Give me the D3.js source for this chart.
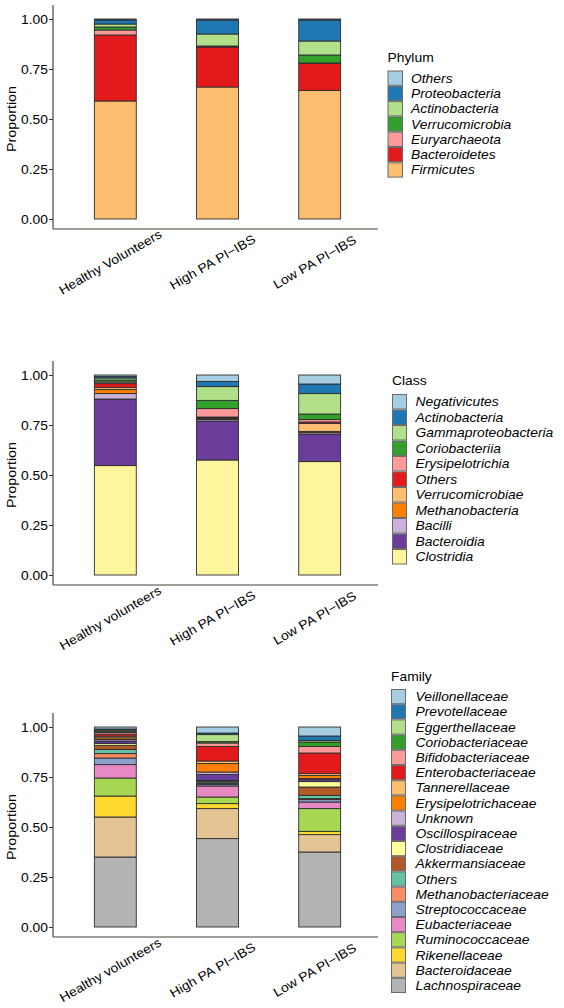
<!DOCTYPE html>
<html><head><meta charset="utf-8">
<script src="https://cdn.jsdelivr.net/npm/d3@7"></script>
<style>
html,body{margin:0;padding:0;background:#fff;}
svg{display:block;}
text{font-family:"Liberation Sans",Arial,sans-serif;fill:#000;}
</style></head>
<body>
<svg id="chart" width="564" height="1008"></svg>
<script>
// ---------- DATA ----------
const groupsPhylum = ["Healthy Volunteers", "High PA PI\u2212IBS", "Low PA PI\u2212IBS"];
const groupsOther  = ["Healthy volunteers", "High PA PI\u2212IBS", "Low PA PI\u2212IBS"];
const yTicks = [0, 0.25, 0.5, 0.75, 1];
const yTickLabels = ["0.00", "0.25", "0.50", "0.75", "1.00"];

// Phylum (bottom -> top of stack)
const phylumNames  = ["Firmicutes", "Bacteroidetes", "Euryarchaeota", "Verrucomicrobia", "Actinobacteria", "Proteobacteria", "Others"];
const phylumColors = ["#FDBF6F", "#E31A1C", "#FB9A99", "#33A02C", "#B2DF8A", "#1F78B4", "#A6CEE3"];
const phylumHV   = [0.590, 0.330, 0.025, 0.015, 0.015, 0.020, 0.005];
const phylumHigh = [0.660, 0.200, 0.002, 0.003, 0.060, 0.070, 0.005];
const phylumLow  = [0.643, 0.135, 0.002, 0.040, 0.070, 0.105, 0.005];

// Class (bottom -> top)
const classNames  = ["Clostridia", "Bacteroidia", "Bacilli", "Methanobacteria", "Verrucomicrobiae", "Others", "Erysipelotrichia", "Coriobacteriia", "Gammaproteobacteria", "Actinobacteria", "Negativicutes"];
const classColors = ["#FFF59D", "#6A3D9A", "#CAB2D6", "#FF7F00", "#FDBF6F", "#E31A1C", "#FB9A99", "#33A02C", "#B2DF8A", "#1F78B4", "#A6CEE3"];
const classHV   = [0.547, 0.333, 0.027, 0.020, 0.010, 0.020, 0.008, 0.010, 0.010, 0.008, 0.007];
const classHigh = [0.575, 0.195, 0.008, 0.004, 0.004, 0.004, 0.042, 0.041, 0.069, 0.026, 0.032];
const classLow  = [0.567, 0.138, 0.007, 0.006, 0.040, 0.007, 0.012, 0.028, 0.102, 0.048, 0.045];

// Family (bottom -> top)
const familyNames  = ["Lachnospiraceae", "Bacteroidaceae", "Rikenellaceae", "Ruminococcaceae", "Eubacteriaceae", "Streptococcaceae", "Methanobacteriaceae", "Others", "Akkermansiaceae", "Clostridiaceae", "Oscillospiraceae", "Unknown", "Erysipelotrichaceae", "Tannerellaceae", "Enterobacteriaceae", "Bifidobacteriaceae", "Coriobacteriaceae", "Eggerthellaceae", "Prevotellaceae", "Veillonellaceae"];
const familyColors = ["#B3B3B3", "#E5C494", "#FFD92F", "#A6D854", "#E78AC3", "#8DA0CB", "#FC8D62", "#66C2A5", "#B15928", "#FFFF99", "#6A3D9A", "#CAB2D6", "#FF7F00", "#FDBF6F", "#E31A1C", "#FB9A99", "#33A02C", "#B2DF8A", "#1F78B4", "#A6CEE3"];
const familyHV   = [0.350, 0.200, 0.105, 0.090, 0.067, 0.033, 0.022, 0.021, 0.020, 0.009, 0.013, 0.008, 0.008, 0.008, 0.010, 0.008, 0.007, 0.006, 0.005, 0.010];
const familyHigh = [0.442, 0.150, 0.025, 0.033, 0.055, 0.008, 0.004, 0.008, 0.004, 0.004, 0.030, 0.012, 0.042, 0.013, 0.073, 0.017, 0.007, 0.035, 0.008, 0.030];
const familyLow  = [0.375, 0.087, 0.016, 0.114, 0.033, 0.012, 0.005, 0.016, 0.042, 0.027, 0.010, 0.005, 0.016, 0.009, 0.103, 0.033, 0.022, 0.008, 0.022, 0.045];

// ---------- DRAW ----------
const svg = d3.select("#chart");
const FS = 12.6, SX = 1.1; // font size and horizontal stretch of the glyphs

function txt(g, str, x, y, opts = {}) {
  const t = g.append("text")
    .attr("transform", `translate(${x},${y}) rotate(${opts.rot || 0}) scale(${opts.sx || SX},1)`)
    .attr("font-size", opts.fs || FS)
    .attr("text-anchor", opts.anchor || "start")
    .attr("dy", opts.dy || 0)
    .text(str);
  if (opts.italic) t.attr("font-style", "italic");
  return t;
}

function drawPanel(cfg) {
  const g = svg.append("g");
  const rows = cfg.groups.map((grp, i) => {
    const o = { group: grp };
    cfg.names.forEach((n, j) => o[n] = cfg.values[i][j]);
    return o;
  });
  const x = d3.scaleBand().domain(cfg.groups).range([54, 381]).paddingInner(0.59).paddingOuter(0.395);
  const y = d3.scaleLinear().domain([-0.05, 1.05]).range([cfg.y0 + 10, cfg.y0 - 210]);
  const color = d3.scaleOrdinal().domain(cfg.names).range(cfg.colors);
  const stack = d3.stack().keys(cfg.names)(rows);

  g.selectAll("g.layer").data(stack).join("g").attr("class", "layer")
    .attr("fill", d => color(d.key))
    .selectAll("rect").data(d => d).join("rect")
    .attr("x", d => x(d.data.group))
    .attr("width", x.bandwidth())
    .attr("y", d => y(d[1]))
    .attr("height", d => y(d[0]) - y(d[1]))
    .attr("stroke", "#2e2e2e").attr("stroke-width", 0.9);

  // y axis
  const yAxis = d3.axisLeft(y).tickValues(yTicks).tickFormat((d, i) => yTickLabels[i]).tickSize(4).tickSizeOuter(0);
  const ya = g.append("g").attr("transform", "translate(53,0)").call(yAxis);
  ya.select(".domain").attr("stroke", "#333").attr("stroke-width", 1.1)
    .attr("d", `M0,${y(1.05) - 4}V${y(-0.05)}`);
  ya.selectAll(".tick line").attr("stroke", "#333");
  ya.selectAll(".tick text").remove();
  yTicks.forEach((v, i) => txt(g, yTickLabels[i], 48, y(v), { anchor: "end", dy: "0.36em" }));

  // x axis line
  g.append("line").attr("x1", 53).attr("x2", 378)
    .attr("y1", y(-0.05)).attr("y2", y(-0.05))
    .attr("stroke", "#4a3f38").attr("stroke-width", 1.1);
  cfg.groups.forEach(grp => {
    const cx = x(grp) + x.bandwidth() / 2 - 5;
    txt(g, grp, cx, y(-0.05) + 33, { anchor: "middle", rot: -30, dy: "0.35em" });
  });

  // y title
  txt(g, "Proportion", 16, (y(0) + y(1)) / 2, { anchor: "middle", rot: -90, fs: 13 });

  // legend
  const L = cfg.legend;
  txt(g, cfg.title, L.x, L.titleY, {});
  const items = cfg.names.slice().reverse();
  items.forEach((n, i) => {
    const ky = L.y0 + i * L.row;
    g.append("rect").attr("x", L.x + 0.5).attr("y", ky).attr("width", L.key).attr("height", L.row - 1)
      .attr("fill", color(n)).attr("stroke", "#6b6b6b").attr("stroke-width", 1);
    txt(g, n, L.tx, ky + (L.row - 1) / 2, { italic: true, dy: "0.36em" });
  });
}

drawPanel({
  groups: groupsPhylum, names: phylumNames, colors: phylumColors,
  values: [phylumHV, phylumHigh, phylumLow], y0: 219, title: "Phylum",
  legend: { x: 387.5, titleY: 62, y0: 71, row: 15.3, key: 14.5, tx: 411 }
});
drawPanel({
  groups: groupsOther, names: classNames, colors: classColors,
  values: [classHV, classHigh, classLow], y0: 575, title: "Class",
  legend: { x: 392, titleY: 385, y0: 394.5, row: 15.5, key: 14, tx: 415.5 }
});
drawPanel({
  groups: groupsOther, names: familyNames, colors: familyColors,
  values: [familyHV, familyHigh, familyLow], y0: 927, title: "Family",
  legend: { x: 391, titleY: 681, y0: 689.5, row: 15.2, key: 14, tx: 415.5 }
});
</script>
</body></html>
